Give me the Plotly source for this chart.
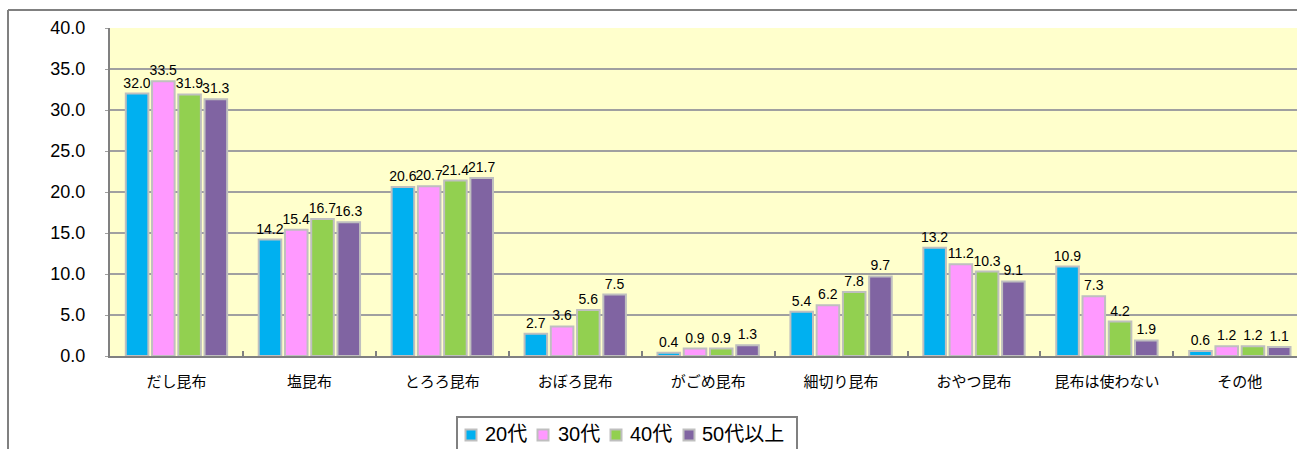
import plotly.graph_objects as go

categories = ["だし昆布", "塩昆布", "とろろ昆布", "おぼろ昆布", "がごめ昆布", "細切り昆布", "おやつ昆布", "昆布は使わない", "その他"]
series_names = ["20代", "30代", "40代", "50代以上"]
v20 = [32.0, 14.2, 20.6, 2.7, 0.4, 5.4, 13.2, 10.9, 0.6]
v30 = [33.5, 15.4, 20.7, 3.6, 0.9, 6.2, 11.2, 7.3, 1.2]
v40 = [31.9, 16.7, 21.4, 5.6, 0.9, 7.8, 10.3, 4.2, 1.2]
v50 = [31.3, 16.3, 21.7, 7.5, 1.3, 9.7, 9.1, 1.9, 1.1]
colors = ["#00B0F0", "#FF99FF", "#92D050", "#8064A2"]

FONT = "Liberation Sans, Arial, Noto Sans CJK JP"
LABEL_FONT = "Liberation Sans Narrow, Liberation Sans, Arial"

W, H = 1297, 449
ML, MT, MB = 110, 28, 93
PW, PH = W - ML, H - MT - MB


def px(x):
    return (x - ML) / PW


def py(y):
    return (H - MB - y) / PH


fig = go.Figure()
for name, vals, col in zip(series_names, [v20, v30, v40, v50], colors):
    fig.add_trace(go.Bar(
        x=categories, y=vals, name=name,
        marker=dict(color=col, line=dict(color="#BFBFBF", width=2)),
        texttemplate="%{y:.1f}", textposition="outside", constraintext="none",
        textfont=dict(size=14, color="#000000", family=LABEL_FONT),
        cliponaxis=False, showlegend=False,
    ))

fig.update_layout(
    width=W, height=H,
    margin=dict(l=ML, r=0, t=MT, b=MB, autoexpand=False),
    paper_bgcolor="white", plot_bgcolor="#FFFFCC",
    barmode="group", bargap=0.21, bargroupgap=0.14,
    font=dict(family=FONT, size=15, color="#000000"),
)

fig.update_xaxes(
    range=[-0.5, 8.43], showline=True, linecolor="#808080", linewidth=2,
    ticks="inside", tickson="boundaries", ticklen=5, tickcolor="#808080", tickwidth=2,
    tickfont=dict(size=15, family="Noto Sans CJK JP"), showgrid=False,
    automargin=False, ticklabelstandoff=11,
)
fig.update_yaxes(
    range=[0, 40], dtick=5, tickformat=".1f", showline=True, linecolor="#808080", linewidth=2,
    gridcolor="#A0A0A0", gridwidth=2, ticks="outside", ticklen=3, tickcolor="#A0A0A0",
    tickfont=dict(size=18, family=FONT), zeroline=False, ticklabelstandoff=16,
    automargin=False,
)

# outer chart-area border (left and top edges visible)
fig.add_shape(type="line", xref="paper", yref="paper", x0=px(8), x1=px(1310), y0=py(10), y1=py(10),
              line=dict(color="#808080", width=2))
fig.add_shape(type="line", xref="paper", yref="paper", x0=px(8), x1=px(8), y0=py(460), y1=py(10),
              line=dict(color="#808080", width=2))

# legend box (drawn manually to match the compact original legend)
fig.add_shape(type="rect", xref="paper", yref="paper", x0=px(457), x1=px(797), y0=py(470), y1=py(417),
              line=dict(color="#808080", width=2), fillcolor="white")
sq_centers = [471, 543, 616, 689]
text_left = [483, 556, 628, 700]
for name, col, cx, tx in zip(series_names, colors, sq_centers, text_left):
    fig.add_shape(type="rect", xref="paper", yref="paper",
                  x0=px(cx - 5.5), x1=px(cx + 5.5), y0=py(440.5), y1=py(429.5),
                  line=dict(color="#BFBFBF", width=2), fillcolor=col)
    fig.add_annotation(text=name, xref="paper", yref="paper", x=px(tx), y=py(434),
                       xanchor="left", yanchor="middle", showarrow=False,
                       font=dict(size=20, family=FONT, color="#000000"))

fig.write_html("out.html", config={"displayModeBar": False},
               post_script="document.body.style.margin='0';document.body.style.overflow='hidden';")
